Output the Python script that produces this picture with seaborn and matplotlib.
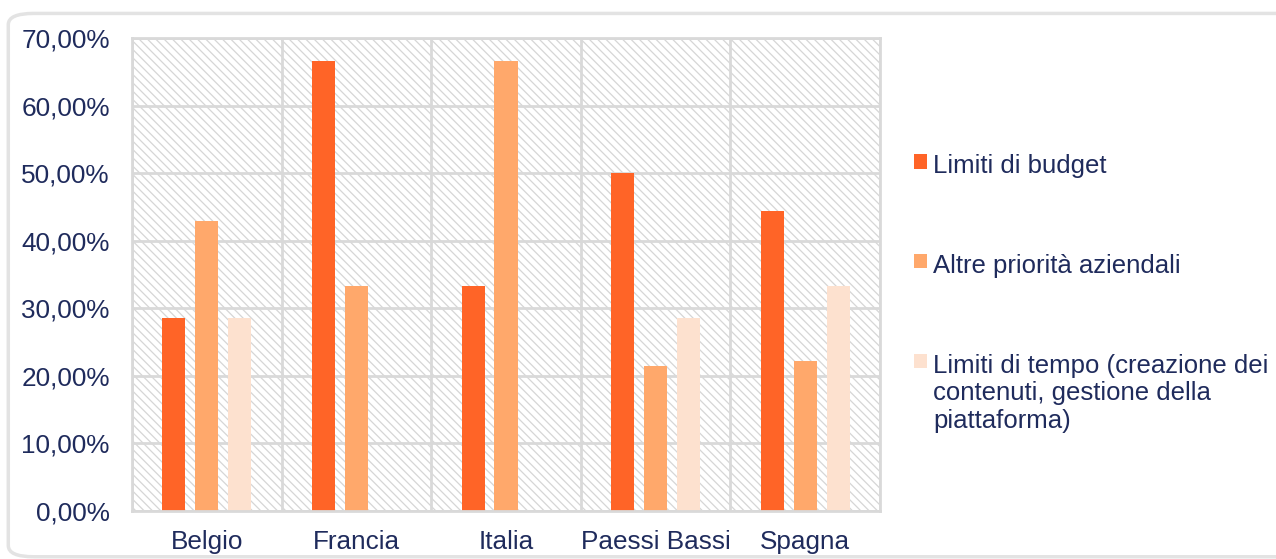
import numpy as np
import pandas as pd
import seaborn as sns
import matplotlib.pyplot as plt
from matplotlib.patches import Rectangle, FancyBboxPatch
from matplotlib.ticker import FuncFormatter, FixedLocator

countries = ["Belgio", "Francia", "Italia", "Paessi Bassi", "Spagna"]
series = [
    "Limiti di budget",
    "Altre priorità aziendali",
    "Limiti di tempo (creazione dei contenuti, gestione della piattaforma)",
]
budget = [28.57, 66.67, 33.33, 50.00, 44.44]
priorita = [42.86, 33.33, 66.67, 21.43, 22.22]
tempo = [28.57, 0.0, 0.0, 28.57, 33.33]
legend_labels = [
    "Limiti di budget",
    "Altre priorità aziendali",
    "Limiti di tempo (creazione dei\ncontenuti, gestione della\npiattaforma)",
]

colors = ["#FF6427", "#FFA86B", "#FDE1CF"]
text_color = "#1F2B5C"
grid_color = "#D9D9D9"

df = pd.DataFrame({
    "paese": countries * 3,
    "serie": [series[0]] * 5 + [series[1]] * 5 + [series[2]] * 5,
    "valore": budget + priorita + tempo,
})

sns.set_theme(style="white")
plt.rcParams["font.family"] = ["Liberation Sans", "DejaVu Sans"]
plt.rcParams["hatch.linewidth"] = 0.9

fig = plt.figure(figsize=(12.76, 5.59), dpi=100)
ax = fig.add_axes([0.1034, 0.0859, 0.5863, 0.8461])

# outer rounded frame
frame = FancyBboxPatch((0.0065, 0.004), 1.2, 0.972, boxstyle="round,pad=0,rounding_size=0.02",
                       transform=fig.transFigure, facecolor="none", edgecolor="#E3E3E3",
                       linewidth=2.5, zorder=0)
fig.patches.append(frame)

# hatched plot background
ax.add_patch(Rectangle((0, 0), 1, 1, transform=ax.transAxes, facecolor="white",
                       edgecolor="#D6D6D6", hatch="\\\\\\\\", linewidth=0, zorder=0.1))

sns.barplot(data=df, x="paese", y="valore", hue="serie", palette=colors,
            width=0.66, gap=0.3, linewidth=0, saturation=1, ax=ax, zorder=2)

ax.get_legend().remove()
ax.set_xlim(-0.5, 4.5)
ax.set_ylim(0, 70)
ax.set_yticks(np.arange(0, 71, 10))
ax.yaxis.set_major_formatter(FuncFormatter(lambda v, p: f"{v:.2f}%".replace(".", ",")))
ax.xaxis.set_minor_locator(FixedLocator(np.arange(-0.5, 5, 1)))
ax.set_axisbelow(True)
ax.grid(axis="y", which="major", color=grid_color, linewidth=2)
ax.grid(axis="x", which="minor", color=grid_color, linewidth=2)
ax.tick_params(axis="both", which="both", length=0, labelsize=18.8, colors=text_color)
ax.tick_params(axis="y", pad=16)
ax.tick_params(axis="x", pad=14)
ax.set_xlabel("")
ax.set_ylabel("")
for s in ax.spines.values():
    s.set_color(grid_color)
    s.set_linewidth(2)

handles, _ = ax.get_legend_handles_labels()
leg = fig.legend(handles, legend_labels, loc="upper left", bbox_to_anchor=(0.698, 0.766),
                 frameon=False, fontsize=18.5, handlelength=0.5, handleheight=0.5,
                 handletextpad=0.25, labelspacing=2.95, labelcolor=text_color)
# keep the square next to the first line of a wrapped label
for row in leg._legend_handle_box.get_children():
    for entry in row.get_children():
        entry.align = "top"

fig.savefig("out.png", dpi=100)
